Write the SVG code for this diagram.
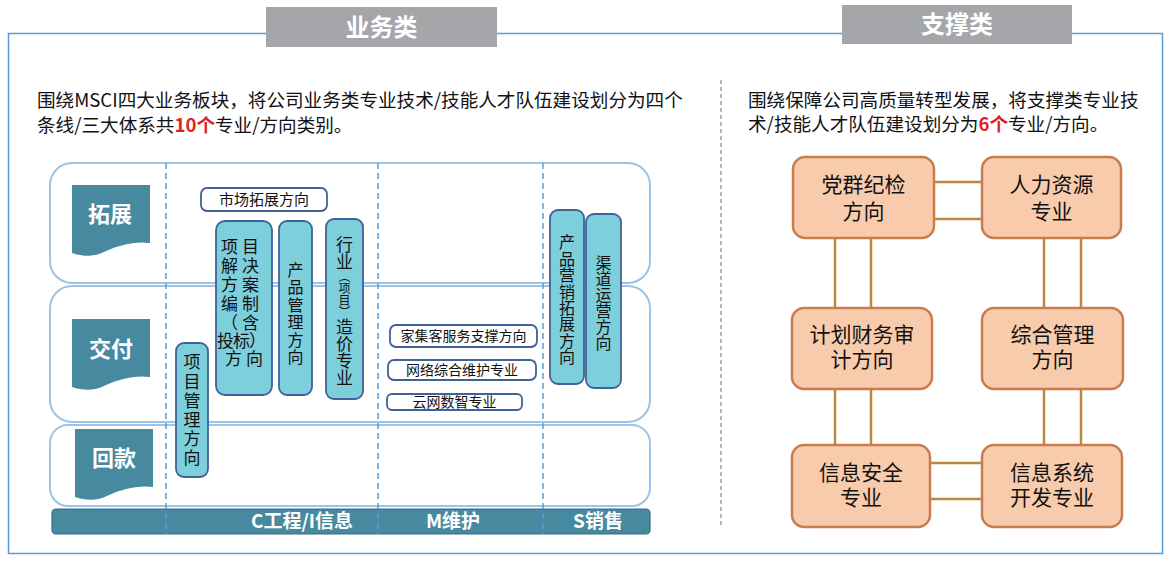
<svg xmlns="http://www.w3.org/2000/svg" width="1174" height="564" viewBox="0 0 1174 564">
<defs>
<style>
text{font-family:"Noto Sans CJK SC","Noto Sans",sans-serif;fill:#111;}
.hdr{fill:#a5a6a9;}
.hdrt{fill:#fff;font-weight:bold;font-size:24px;text-anchor:middle;}
.para{font-size:18.6px;}
.red{fill:#e32020;font-weight:bold;}
.row{fill:none;stroke:#9dc3e6;stroke-width:2;}
.dash{stroke:#5b9bd5;stroke-width:1.5;stroke-dasharray:6 4;}
.tag{fill:#47899f;}
.tagt{fill:#fff;font-weight:bold;font-size:22px;text-anchor:middle;}
.bar{fill:#47899f;stroke:#3c6a8c;stroke-width:1.2;}
.bart{fill:#fff;font-weight:bold;font-size:19px;text-anchor:middle;}
.cy{fill:#7ecfdc;stroke:#41619a;stroke-width:1.8;}
.wb{fill:#fff;stroke:#41619a;stroke-width:1.8;}
.t14{font-size:14px;text-anchor:middle;}
.t15{font-size:15px;text-anchor:middle;}
.h17{font-size:17px;text-anchor:middle;}
.vt{writing-mode:vertical-rl;text-anchor:middle;}
.pk{fill:#f8cbad;stroke:#c97c4e;stroke-width:2.5;}
.pkt{font-size:21px;text-anchor:middle;}
.con{stroke:#b8893e;stroke-width:2.5;fill:none;}
</style>
<path id="doc" d="M0,0 H78 V58 C62,56 48,60 34,66 C22,72 12,72 0,68 Z"/>
</defs>
<rect x="0" y="0" width="1174" height="564" fill="#fff"/>

<!-- outer frame -->
<rect x="8.5" y="33.5" width="1154" height="520" fill="none" stroke="#5b9bd5" stroke-width="1.5"/>
<line x1="721" y1="80" x2="721" y2="527" stroke="#a0a0a0" stroke-width="1.5" stroke-dasharray="4 3"/>

<!-- headers -->
<g id="hdr-business">
<rect class="hdr" x="266" y="7" width="231" height="40"/>
<text class="hdrt" x="381.5" y="36">业务类</text>
</g>
<g id="hdr-support">
<rect class="hdr" x="842" y="5" width="230" height="39"/>
<text class="hdrt" x="957" y="33">支撑类</text>
</g>

<!-- paragraphs -->
<g id="para-left">
<text class="para" x="37" y="107">围绕MSCI四大业务板块，将公司业务类专业技术/技能人才队伍建设划分为四个</text>
<text class="para" x="37" y="132">条线/三大体系共<tspan class="red">10个</tspan>专业/方向类别。</text>
</g>
<g id="para-right">
<text class="para" x="748" y="107">围绕保障公司高质量转型发展，将支撑类专业技</text>
<text class="para" x="748" y="131">术/技能人才队伍建设划分为<tspan class="red">6个</tspan>专业/方向。</text>
</g>

<!-- rows -->
<g id="rows">
<rect class="row" x="50" y="163" width="600" height="120" rx="22"/>
<rect class="row" x="50" y="286" width="600" height="136" rx="22"/>
<rect class="row" x="50" y="425" width="600" height="81" rx="18"/>
</g>

<!-- row tags -->
<g id="tag-tuozhan">
<use href="#doc" class="tag" x="72" y="185"/>
<text class="tagt" x="110" y="222">拓展</text>
</g>
<g id="tag-jiaofu">
<use href="#doc" class="tag" x="72" y="319"/>
<text class="tagt" x="111" y="357">交付</text>
</g>
<g id="tag-huikuan">
<use href="#doc" class="tag" x="75" y="429"/>
<text class="tagt" x="114" y="466">回款</text>
</g>

<!-- bottom bar -->
<g id="bottom-bar">
<rect class="bar" x="52" y="509" width="598" height="25" rx="4"/>
<text class="bart" x="302" y="528">C工程/I信息</text>
<text class="bart" x="453" y="528">M维护</text>
<text class="bart" x="598" y="528">S销售</text>
</g>

<!-- dashed column dividers -->
<g id="dividers">
<line class="dash" x1="166" y1="163" x2="166" y2="534"/>
<line class="dash" x1="378" y1="163" x2="378" y2="534"/>
<line class="dash" x1="543" y1="163" x2="543" y2="534"/>
</g>

<!-- business nodes -->
<g id="n-shichang">
<rect class="wb" x="201" y="188" width="126" height="23" rx="6"/>
<text class="t15" x="264" y="205">市场拓展方向</text>
</g>

<g id="n-jiejue">
<rect class="cy" x="216" y="221" width="56" height="174" rx="9"/>
<text class="h17" style="letter-spacing:4px">
<tspan x="246" y="253">项目</tspan>
<tspan x="246" y="272">解决</tspan>
<tspan x="246" y="291">方案</tspan>
<tspan x="246" y="310">编制</tspan>
<tspan x="246" y="329">（含</tspan>
<tspan x="245" y="347" style="letter-spacing:-1px">投标）</tspan>
<tspan x="246" y="365">方向</tspan>
</text>
</g>

<g id="n-chanpin">
<rect class="cy" x="279" y="221" width="33" height="174" rx="8"/>
<text class="vt" x="295.5" y="314" style="font-size:16px;letter-spacing:1.5px">产品管理方向</text>
</g>

<g id="n-hangye">
<rect class="cy" x="326" y="219" width="37" height="180" rx="8"/>
<text class="vt" x="344.5" y="311" style="font-size:17px">行业<tspan style="font-size:12px">（项目）</tspan>造价专业</text>
</g>

<g id="n-xiangmu">
<rect class="cy" x="176" y="343" width="32" height="134" rx="8"/>
<text class="vt" x="192" y="411" style="font-size:17px;letter-spacing:2.2px">项目管理方向</text>
</g>

<g id="n-jiajike">
<rect class="wb" x="390" y="325" width="147" height="22" rx="6"/>
<text class="t14" x="463.5" y="341">家集客服务支撑方向</text>
</g>
<g id="n-wangluo">
<rect class="wb" x="388" y="360" width="148" height="20" rx="6"/>
<text class="t14" x="462" y="375">网络综合维护专业</text>
</g>
<g id="n-yunwang">
<rect class="wb" x="387" y="394" width="135" height="16" rx="5"/>
<text class="t14" x="454.5" y="407">云网数智专业</text>
</g>

<g id="n-yingxiao">
<rect class="cy" x="550" y="210" width="34" height="174" rx="8"/>
<text class="vt" x="567" y="300" style="font-size:16px;letter-spacing:0.4px">产品营销拓展方向</text>
</g>

<g id="n-qudao">
<rect class="cy" x="586" y="214" width="35" height="174" rx="8"/>
<text class="vt" x="603.5" y="303" style="font-size:16px">渠道运营方向</text>
</g>

<!-- support connectors -->
<g id="connectors">
<line class="con" x1="934" y1="182" x2="982" y2="182"/>
<line class="con" x1="934" y1="219" x2="982" y2="219"/>
<line class="con" x1="835" y1="238" x2="835" y2="308"/>
<line class="con" x1="871" y1="238" x2="871" y2="308"/>
<line class="con" x1="1044" y1="238" x2="1044" y2="308"/>
<line class="con" x1="1081" y1="238" x2="1081" y2="308"/>
<line class="con" x1="835" y1="389" x2="835" y2="445"/>
<line class="con" x1="871" y1="389" x2="871" y2="445"/>
<line class="con" x1="1044" y1="389" x2="1044" y2="445"/>
<line class="con" x1="1081" y1="389" x2="1081" y2="445"/>
<line class="con" x1="930" y1="463" x2="982" y2="463"/>
<line class="con" x1="930" y1="499" x2="982" y2="499"/>
</g>

<!-- support nodes -->
<g id="s-dangqun">
<rect class="pk" x="793" y="157" width="141" height="81" rx="12"/>
<text class="pkt"><tspan x="863.5" y="192">党群纪检</tspan><tspan x="863.5" y="219">方向</tspan></text>
</g>
<g id="s-renli">
<rect class="pk" x="982" y="157" width="139" height="81" rx="12"/>
<text class="pkt"><tspan x="1051.5" y="192">人力资源</tspan><tspan x="1051.5" y="219">专业</tspan></text>
</g>
<g id="s-jihua">
<rect class="pk" x="792" y="308" width="140" height="81" rx="12"/>
<text class="pkt"><tspan x="862" y="342">计划财务审</tspan><tspan x="862" y="367">计方向</tspan></text>
</g>
<g id="s-zonghe">
<rect class="pk" x="982" y="308" width="141" height="81" rx="12"/>
<text class="pkt"><tspan x="1052.5" y="342">综合管理</tspan><tspan x="1052.5" y="367">方向</tspan></text>
</g>
<g id="s-anquan">
<rect class="pk" x="792" y="445" width="138" height="82" rx="12"/>
<text class="pkt"><tspan x="861" y="480">信息安全</tspan><tspan x="861" y="505">专业</tspan></text>
</g>
<g id="s-xitong">
<rect class="pk" x="982" y="445" width="140" height="82" rx="12"/>
<text class="pkt"><tspan x="1052" y="480">信息系统</tspan><tspan x="1052" y="505">开发专业</tspan></text>
</g>
</svg>
